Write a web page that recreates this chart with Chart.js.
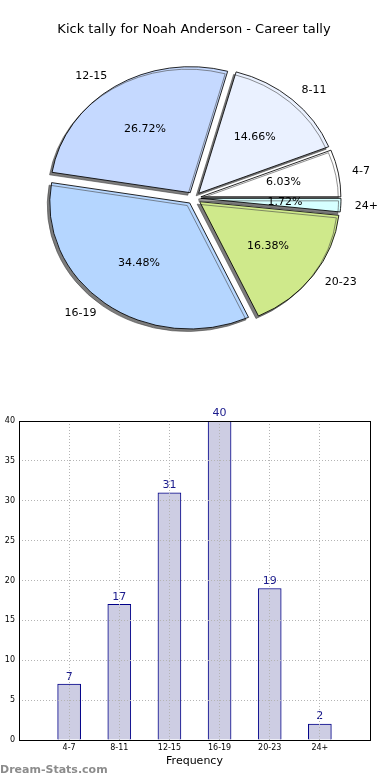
<!DOCTYPE html>
<html>
<head>
<meta charset="utf-8">
<script src="https://cdn.jsdelivr.net/npm/chart.js@4/dist/chart.umd.min.js"></script>
<style>
  body { margin: 0; background: #fff; width: 390px; height: 780px; position: relative; overflow: hidden; }
  #pieChart { position: absolute; left: 0; top: 0; }
  #barChart { position: absolute; left: 0; top: 400px; }
  .watermark { position: absolute; left: 0; top: 763px; font: bold 11px 'DejaVu Sans', sans-serif; color: #8c8c8c; }
</style>
</head>
<body>
<canvas id="pieChart" width="390" height="396"></canvas>
<canvas id="barChart" width="390" height="380"></canvas>
<div class="watermark">Dream-Stats.com</div>
<script>
const chartTitle = 'Kick tally for Noah Anderson - Career tally'
const kickRanges = ['4-7', '8-11', '12-15', '16-19', '20-23', '24+']
const kickCounts = [7, 17, 31, 40, 19, 2]
const sliceColors = ['#ffffff', '#eaf1ff', '#c5d9ff', '#b5d6ff', '#cfe98b', '#d6ffff']
const yTicks = { min: 0, max: 40, step: 5 }

const totalKicks = kickCounts.reduce((a, b) => a + b, 0)
const FONT = "'DejaVu Sans', sans-serif"

// matplotlib-ish pie: counter-clockwise from 3 o'clock, exploded, elliptical, with shadow
const stretchX = 140 / 126
const explode = 6.3

const pieLook = {
    id: 'pieLook',
    beforeDatasetsDraw(chart) {
        const ctx = chart.ctx
        const arcs = chart.getDatasetMeta(0).data
        const cx = arcs[0].x, cy = arcs[0].y
        ctx.save()
        ctx.shadowColor = 'rgba(70, 70, 70, 0.7)'
        ctx.shadowOffsetX = -2.5
        ctx.shadowOffsetY = 2.5
        ctx.shadowBlur = 0
        arcs.forEach(arc => {
            const mid = (arc.startAngle + arc.endAngle) / 2
            ctx.save()
            ctx.translate(cx, cy)
            ctx.scale(stretchX, -1)
            ctx.translate(Math.cos(mid) * explode, Math.sin(mid) * explode)
            ctx.translate(-cx, -cy)
            arc.draw(ctx)
            ctx.restore()
        })
        ctx.restore()
        return false
    },
    afterDraw(chart) {
        const ctx = chart.ctx
        const arcs = chart.getDatasetMeta(0).data
        ctx.save()
        ctx.font = '11px ' + FONT
        ctx.fillStyle = '#000'
        ctx.textBaseline = 'middle'
        arcs.forEach((arc, i) => {
            const mid = (arc.startAngle + arc.endAngle) / 2
            const ux = Math.cos(mid), uy = -Math.sin(mid)
            const r = arc.outerRadius
            const lr = 1.1 * r + explode
            ctx.textAlign = ux > 0 ? 'left' : 'right'
            ctx.fillText(kickRanges[i], arc.x + stretchX * lr * ux, arc.y + lr * uy)
            const pr = 0.6 * r + explode
            ctx.textAlign = 'center'
            const pct = (kickCounts[i] / totalKicks * 100).toFixed(2) + '%'
            ctx.fillText(pct, arc.x + stretchX * pr * ux, arc.y + pr * uy)
        })
        ctx.restore()
    }
}

new Chart(document.getElementById('pieChart'), {
    type: 'pie',
    data: {
        labels: kickRanges,
        datasets: [{
            data: kickCounts,
            backgroundColor: sliceColors,
            borderColor: '#000',
            borderWidth: 0.8,
        }]
    },
    options: {
        responsive: false,
        animation: false,
        rotation: 90,
        radius: 126,
        layout: { padding: { right: 2, bottom: 37.6 } },
        plugins: {
            legend: { display: false },
            tooltip: { enabled: false },
            title: {
                display: true,
                text: chartTitle,
                color: '#000',
                font: { family: FONT, size: 13, weight: 'normal' },
                padding: { top: 22, bottom: 0 },
            },
        },
    },
    plugins: [pieLook]
})

// bar chart
const barLabels = {
    id: 'barLabels',
    afterDatasetsDraw(chart) {
        const ctx = chart.ctx
        ctx.save()
        ctx.font = '11px ' + FONT
        ctx.fillStyle = '#1a1a8c'
        ctx.textAlign = 'center'
        ctx.textBaseline = 'bottom'
        chart.getDatasetMeta(0).data.forEach((bar, i) => {
            ctx.fillText(kickCounts[i], bar.x, bar.y - 2)
        })
        ctx.restore()
    },
    afterDraw(chart) {
        const { left, top, right, bottom } = chart.chartArea
        const ctx = chart.ctx
        ctx.save()
        ctx.strokeStyle = '#000'
        ctx.lineWidth = 1
        ctx.strokeRect(Math.round(left) + 0.5, Math.round(top) + 0.5, Math.round(right - left), Math.round(bottom - top))
        ctx.restore()
    }
}

new Chart(document.getElementById('barChart'), {
    type: 'bar',
    data: {
        datasets: [{
            data: kickCounts.map((v, i) => ({ x: i, y: v })),
            backgroundColor: '#cdcde3',
            borderColor: '#000088',
            borderWidth: 1,
            barThickness: 23,
        }]
    },
    options: {
        responsive: false,
        animation: false,
        layout: { padding: { top: 21, right: 20, left: 0, bottom: 0 } },
        plugins: { legend: { display: false }, tooltip: { enabled: false } },
        scales: {
            x: {
                type: 'linear',
                offset: false,
                min: -1,
                max: kickRanges.length,
                afterFit: scale => { scale.height = 40 },
                ticks: {
                    stepSize: 1,
                    autoSkip: false,
                    maxRotation: 0,
                    padding: 3,
                    color: '#000',
                    font: { family: FONT, size: 8 },
                    callback: v => kickRanges[v] || '',
                },
                grid: { offset: false, color: '#b4b4b4', lineWidth: 1, drawTicks: false, z: 1 },
                border: { display: false, dash: [1, 2] },
                title: {
                    display: true,
                    text: 'Frequency',
                    color: '#000',
                    font: { family: FONT, size: 11 },
                    padding: { top: 0, bottom: 12 },
                },
            },
            y: {
                min: yTicks.min,
                max: yTicks.max,
                afterFit: scale => { scale.width = 19 },
                ticks: {
                    stepSize: yTicks.step,
                    padding: 4,
                    color: '#000',
                    font: { family: FONT, size: 8 },
                },
                grid: { color: '#b4b4b4', lineWidth: 1, drawTicks: false, z: 1 },
                border: { display: false, dash: [1, 2] },
            },
        },
    },
    plugins: [barLabels]
})
</script>
</body>
</html>
